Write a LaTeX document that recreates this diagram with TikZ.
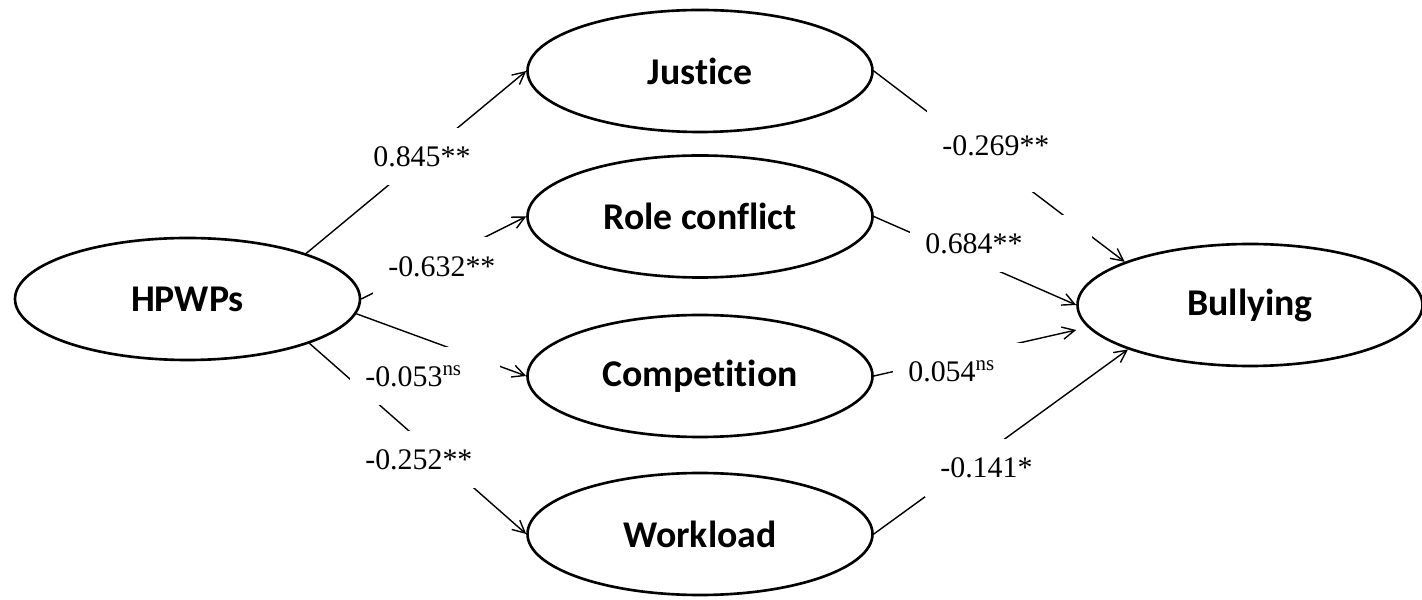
\documentclass[tikz,border=0pt]{standalone}
\usepackage{fontspec}
\setmainfont{Liberation Serif}
\newfontfamily\calibri[Ligatures=NoCommon]{Carlito}
\usetikzlibrary{arrows.meta,shapes.geometric}
\newcommand\coef[5]{\node(#1)[coef,text width=#3,minimum height=#4,anchor=west] at (#2) {\mbox{#5}};}

\begin{document}
\begin{tikzpicture}[
    latent/.style={ellipse,draw,line width=1.5pt,inner sep=0pt,minimum width=6.9cm,minimum height=2.44cm,
        font=\calibri\bfseries\fontsize{21.5}{24}\selectfont},
    link/.style={line width=0.8pt,-{Straight Barb[length=7pt,width=7pt]}},
    coef/.style={fill=white,inner xsep=0.3cm,inner ysep=0pt,align=left,font=\fontsize{17}{19}\selectfont}]
    \useasboundingbox (0,0) rectangle (28.44,11.98);
    \node(hpwps)[latent] at (3.75,6.00) {HPWPs};
    \node(justice)[latent] at (14.00,10.56) {Justice};
    \node(roleconf)[latent] at (14.00,7.65) {Role conflict};
    \node(compet)[latent] at (14.00,4.46) {Competition};
    \node(workload)[latent] at (14.00,1.30) {Workload};
    \node(bullying)[latent] at (25.00,5.88) {Bullying};
    % a paths
    \draw[link] (hpwps.21)  -- (justice.west);
    \draw[link] (hpwps.east) -- (roleconf.west);
    \draw[link] (hpwps.-5)  -- (compet.west);
    \draw[link] (hpwps.-20) -- (workload.west);
    % b paths
    \draw[link] (justice.east)  -- (bullying.161);
    \draw[link] (roleconf.east) -- (bullying.west);
    \draw[link] (compet.east)   -- ([yshift=-0.5cm]bullying.west);
    \draw[link] (workload.east) -- (bullying.200);
    % coefficients
    \coef{p1}{7.16,8.85}{2.04cm}{1.14cm}{0.845**}
    \coef{p2}{7.46,6.64}{2.04cm}{1.18cm}{-0.632**}
    \coef{p3}{7.00,4.46}{2.40cm}{1.16cm}{-0.053\textsuperscript{ns}}
    \coef{p4}{7.00,2.78}{2.10cm}{1.14cm}{-0.252**}
    \coef{p5}{18.54,9.06}{2.06cm}{1.84cm}{-0.269**}
    \coef{p6}{18.20,7.11}{3.04cm}{1.14cm}{0.684**}
    \coef{p7}{17.86,4.55}{2.00cm}{1.14cm}{0.054\textsuperscript{ns}}
    \coef{p8}{18.50,2.62}{1.80cm}{1.16cm}{-0.141*}
\end{tikzpicture}
\end{document}
